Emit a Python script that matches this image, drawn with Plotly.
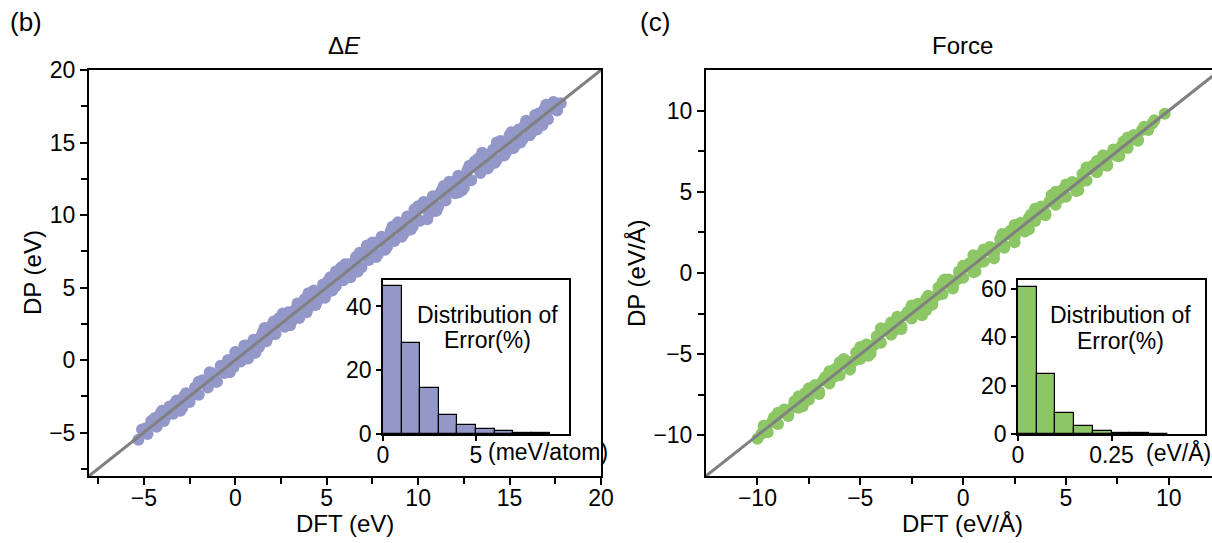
import plotly.graph_objects as go

# ---------------- data ----------------
# panel (b): Delta E, DFT vs DP (eV)
dE_dft = [-5.3, -5.1, -4.8, -4.6, -4.3, -4.1, -3.9, -3.6, -3.4, -3.2, -2.9, -2.7, -2.5, -2.2, -2.0,
          -1.8, -1.5, -1.3, -1.1, -0.8, -0.6, -0.4, -0.1, 0.1, 0.3, 0.6, 0.8, 1.0, 1.3, 1.5, 1.7,
          2.0, 2.2, 2.4, 2.7, 2.9, 3.1, 3.4, 3.6, 3.8, 4.1, 4.3, 4.5, 4.8, 5.0, 5.2, 5.5, 5.7, 5.9,
          6.2, 6.4, 6.6, 6.9, 7.1, 7.3, 7.6, 7.8, 8.0, 8.3, 8.5, 8.7, 9.0, 9.2, 9.4, 9.7, 9.9, 10.1,
          10.4, 10.6, 10.8, 11.1, 11.3, 11.5, 11.8, 12.0, 12.2, 12.5, 12.7, 12.9, 13.2, 13.4, 13.6,
          13.9, 14.1, 14.3, 14.6, 14.8, 15.0, 15.3, 15.5, 15.7, 16.0, 16.2, 16.4, 16.7, 16.9, 17.1,
          17.4, 17.6, 17.8, 9.5, 12.4, 16.8, 14.3,
          -4.9, -4.4, -3.8, -3.3, -2.8, -2.3, -1.7, -1.2, -0.7, -0.2, 0.4, 0.9, 1.4, 1.9, 2.3, 2.8,
          3.3, 3.7, 4.2, 4.7, 5.1, 5.6, 6.1, 6.5, 7.0, 7.4, 7.9, 8.4, 8.8, 9.3, 9.8, 10.2, 10.7,
          11.2, 11.6, 12.1, 12.6, 13.0, 13.5, 14.0, 14.4, 14.9, 15.4, 15.8, 16.3, 16.6, 17.2, 17.5,
          7.2, 10.5, 3.5, 13.5, 0.5, 11.0, 15.6, 6.8,
          -4.0, -3.0, -2.0, -1.0, 0.0, 1.1, 2.1, 3.0, 4.0, 4.9, 5.8, 6.7, 7.5, 8.2, 8.9, 9.6, 10.3,
          11.0, 11.7, 12.3, 13.1, 13.8, 14.5, 15.2, 15.9, 16.5, 17.0, 6.0, 9.1, 12.8, 3.9, 1.6,
          -0.3, 10.0, 14.7, 5.3,
          -1.4, 0.7, 2.6, 4.4, 5.5, 7.7, 8.6, 10.9, 11.4, 12.2, 13.3, 14.2, 15.1, 16.1, 9.8, 6.3]
dE_dp = [-5.5, -4.8, -5.1, -4.2, -4.6, -3.7, -4.2, -3.2, -3.7, -2.8, -3.3, -2.3, -2.9, -1.9, -2.4,
         -1.4, -1.9, -0.9, -1.5, -0.4, -0.9, 0.0, -0.5, 0.5, -0.1, 1.0, 0.4, 1.4, 0.9, 1.9, 1.3,
         2.4, 1.8, 2.9, 2.3, 3.3, 2.7, 3.9, 3.2, 4.2, 3.7, 4.8, 4.1, 5.2, 4.6, 5.7, 5.1, 6.2, 5.5,
         6.6, 6.0, 7.1, 6.4, 7.5, 6.9, 8.0, 7.3, 8.5, 7.8, 8.9, 8.2, 9.4, 8.7, 9.9, 9.2, 10.3, 9.6,
         10.8, 10.1, 11.3, 10.6, 11.7, 11.0, 12.2, 11.5, 12.7, 11.9, 13.1, 12.4, 13.6, 12.9, 14.1,
         13.4, 14.5, 13.8, 15.0, 14.3, 15.5, 14.8, 15.9, 15.2, 16.4, 15.7, 16.9, 16.2, 17.3, 16.6,
         17.8, 17.2, 17.7, 9.0, 11.7, 16.2, 15.0,
         -4.7, -4.0, -3.9, -3.0, -2.5, -2.4, -1.6, -1.2, -0.7, 0.0, 0.4, 0.8, 1.6, 1.7, 2.5, 2.7,
         3.5, 3.9, 4.5, 4.6, 5.5, 5.8, 6.4, 6.7, 7.3, 7.5, 8.2, 8.4, 9.2, 9.4, 9.7, 10.6, 10.6,
         11.5, 11.6, 12.4, 12.5, 13.4, 13.4, 14.2, 14.8, 14.8, 15.6, 16.1, 16.3, 17.0, 17.3, 17.7,
         7.9, 9.7, 2.9, 14.3, 1.0, 10.3, 15.0, 7.4,
         -3.5, -3.5, -1.5, -1.5, 0.55, 0.5, 2.65, 2.4, 4.6, 4.3, 6.4, 6.1, 8.1, 7.6, 9.5, 9.0, 10.9,
         10.4, 12.3, 11.7, 13.7, 13.2, 15.1, 14.6, 16.5, 15.9, 17.6, 6.6, 8.5, 13.4, 3.3, 2.2,
         -0.85, 10.6, 14.1, 4.8,
         -0.85, 0.1, 3.2, 3.8, 6.1, 7.1, 9.2, 10.3, 12.0, 11.55, 13.9, 13.6, 15.7, 15.5, 10.4, 5.7]

# panel (c): Force, DFT vs DP (eV/Å)
f_dft = [-10.0, -9.7, -9.5, -9.2, -9.0, -8.7, -8.5, -8.2, -8.0, -7.7, -7.5, -7.2, -7.0, -6.7, -6.5,
         -6.2, -6.0, -5.7, -5.5, -5.2, -5.0, -4.7, -4.5, -4.2, -4.0, -3.7, -3.5, -3.2, -3.0, -2.7,
         -2.5, -2.2, -2.0, -1.7, -1.5, -1.2, -1.0, -0.7, -0.5, -0.2, 0.0, 0.3, 0.5, 0.8, 1.0, 1.3,
         1.5, 1.8, 2.0, 2.3, 2.5, 2.8, 3.0, 3.3, 3.5, 3.8, 4.0, 4.3, 4.5, 4.8, 5.0, 5.3, 5.5, 5.8,
         6.0, 6.3, 6.5, 6.8, 7.0, 7.3, 7.5, 7.8, 8.0, 8.3, 8.5, 8.8, 9.0, 9.3, 9.8,
         -9.8, -9.3, -8.8, -8.3, -7.8, -7.3, -6.8, -6.3, -5.8, -5.3, -4.8, -4.3, -3.8, -3.3, -2.8,
         -2.3, -1.8, -1.3, -0.8, -0.3, 0.2, 0.7, 1.2, 1.7, 2.2, 2.7, 3.2, 3.7, 4.2, 4.7, 5.2, 5.7,
         6.2, 6.7, 7.2, 7.7, 8.2, 8.7, 9.2,
         -4.0, -2.0, 0.5, 2.5, 4.5, -6.0, 6.0, 1.5,
         -9.0, -8.0, -7.0, -6.5, -5.5, -5.0, -4.5, -3.5, -3.0, -2.5, -1.5, -1.0, -0.5, 0.0, 0.5,
         1.0, 2.0, 2.5, 3.0, 3.5, 4.0, 5.0, 5.5, 6.5, 7.0, 8.0, 8.5, -7.5,
         -5.8, -4.6, -3.2, -1.8, -0.9, 0.6, 1.9, 3.2, 4.3, 5.6, 6.8, -7.8, 7.6, -2.5]
f_dp = [-10.2, -9.4, -9.8, -8.9, -9.3, -8.4, -8.8, -7.9, -8.3, -7.4, -7.8, -6.9, -7.3, -6.4, -6.8,
        -5.9, -6.3, -5.4, -5.8, -4.9, -5.3, -4.4, -4.8, -3.9, -4.3, -3.4, -3.8, -2.9, -3.3, -2.4,
        -2.8, -1.9, -2.3, -1.4, -1.8, -0.9, -1.3, -0.4, -0.8, 0.1, -0.3, 0.6, 0.2, 1.1, 0.7, 1.6,
        1.2, 2.1, 1.7, 2.6, 2.2, 3.1, 2.7, 3.6, 3.2, 4.1, 3.7, 4.6, 4.2, 5.1, 4.7, 5.6, 5.2, 6.1,
        5.7, 6.6, 6.2, 7.1, 6.7, 7.6, 7.2, 8.1, 7.7, 8.5, 8.2, 9.0, 8.8, 9.4, 9.8,
        -9.9, -9.2, -8.6, -8.3, -7.6, -7.3, -6.6, -6.4, -5.6, -5.4, -4.6, -4.4, -3.5, -3.5, -2.6,
        -2.4, -1.6, -1.4, -0.6, -0.4, 0.4, 0.6, 1.4, 1.6, 2.4, 2.6, 3.4, 3.6, 4.4, 4.6, 5.4, 5.6,
        6.4, 6.6, 7.3, 7.8, 8.2, 8.8, 9.2,
        -3.4, -2.6, 1.1, 1.9, 5.0, -5.5, 6.5, 0.9,
        -8.6, -7.6, -7.45, -6.05, -5.95, -4.55, -4.95, -3.05, -3.45, -2.05, -1.95, -0.55, -0.95,
        0.45, 0.05, 1.45, 1.55, 2.95, 2.55, 3.95, 3.55, 5.45, 5.05, 6.9, 6.6, 8.35, 8.15, -7.1,
        -5.3, -5.1, -2.7, -2.3, -0.4, 0.1, 2.4, 2.7, 4.8, 5.1, 7.25, -8.2, 7.2, -2.0]

# inset histograms (error distribution, %)
hist_e_centers = [0.5, 1.5, 2.5, 3.5, 4.5, 5.5, 6.5, 7.5, 8.5]
hist_e_values = [46.5, 28.6, 14.3, 6.1, 2.9, 1.5, 0.8, 0.3, 0.2]
hist_f_centers = [0.025, 0.075, 0.125, 0.175, 0.225, 0.275, 0.325, 0.375]
hist_f_values = [61.0, 24.8, 8.8, 3.2, 1.2, 0.5, 0.3, 0.2]

# ---------------- style ----------------
W, H = 1212, 543
FONT = "Liberation Sans, Arial, sans-serif"
BLUE = "rgb(147,152,201)"
GREEN = "rgb(141,198,101)"
GREY = "rgb(128,128,128)"
TICK_SIZE = 23
TEXT_SIZE = 24


def px(x):
    return x / W


def py(y):
    return 1 - y / H


fig = go.Figure()

fig.add_trace(go.Scatter(x=dE_dft, y=dE_dp, mode="markers",
                         marker=dict(size=12, color=BLUE, line=dict(width=0)),
                         xaxis="x", yaxis="y", showlegend=False))
fig.add_trace(go.Scatter(x=[-8, 20], y=[-8, 20], mode="lines",
                         line=dict(color=GREY, width=3), xaxis="x", yaxis="y", showlegend=False))

fig.add_trace(go.Scatter(x=f_dft, y=f_dp, mode="markers",
                         marker=dict(size=12, color=GREEN, line=dict(width=0)),
                         xaxis="x2", yaxis="y2", showlegend=False))
fig.add_trace(go.Scatter(x=[-12.5, 12.5], y=[-12.5, 12.5], mode="lines",
                         line=dict(color=GREY, width=3), xaxis="x2", yaxis="y2", showlegend=False))

fig.add_trace(go.Bar(x=hist_e_centers, y=hist_e_values, width=1.0,
                     marker=dict(color=BLUE, line=dict(color="black", width=1.2)),
                     xaxis="x3", yaxis="y3", showlegend=False))
fig.add_trace(go.Bar(x=hist_f_centers, y=hist_f_values, width=0.05,
                     marker=dict(color=GREEN, line=dict(color="black", width=1.2)),
                     xaxis="x4", yaxis="y4", showlegend=False))

tickfont = dict(family=FONT, size=TICK_SIZE, color="black")
main_axis = dict(showline=True, linecolor="black", linewidth=2, ticks="outside",
                 ticklen=7, tickwidth=1.5, tickcolor="black", showgrid=False,
                 zeroline=False, tickfont=tickfont, automargin=False,
                 minor=dict(ticks="outside", ticklen=6, tickwidth=1.5, tickcolor="black"))
inset_axis = dict(showline=True, linecolor="black", linewidth=1.5, mirror=True,
                  ticks="outside", ticklen=5, tickwidth=1.5, tickcolor="black",
                  showgrid=False, zeroline=False, tickfont=tickfont, automargin=False)

ydom = [py(476), py(70)]

fig.update_layout(
    width=W, height=H, margin=dict(l=0, r=0, t=0, b=0, autoexpand=False),
    paper_bgcolor="white", plot_bgcolor="white",
    font=dict(family=FONT, size=TICK_SIZE, color="black"),
    bargap=0,
    xaxis=dict(main_axis, domain=[px(89), px(601)], range=[-8, 20], tickvals=[-5, 0, 5, 10, 15, 20],
               ticktext=["\u22125", "0", "5", "10", "15", "20"], mirror=True, anchor="y",
               ticklabelstandoff=-7,
               minor=dict(main_axis["minor"], tickvals=[-7.5, -2.5, 2.5, 7.5, 12.5, 17.5])),
    yaxis=dict(main_axis, domain=ydom, range=[-8, 20], tickvals=[-5, 0, 5, 10, 15, 20],
               ticktext=["\u22125", "0", "5", "10", "15", "20"], mirror=True, anchor="x",
               minor=dict(main_axis["minor"], tickvals=[-7.5, -2.5, 2.5, 7.5, 12.5, 17.5])),
    xaxis2=dict(main_axis, domain=[px(706), 1.0], range=[-12.5, 12.1], tickvals=[-10, -5, 0, 5, 10],
                ticktext=["\u221210", "\u22125", "0", "5", "10"], mirror=True, anchor="y2",
                ticklabelstandoff=-7,
                minor=dict(main_axis["minor"], tickvals=[-7.5, -2.5, 2.5, 7.5])),
    yaxis2=dict(main_axis, domain=ydom, range=[-12.5, 12.5], tickvals=[-10, -5, 0, 5, 10],
                ticktext=["\u221210", "\u22125", "0", "5", "10"], mirror=False, anchor="x2",
                minor=dict(main_axis["minor"], tickvals=[-7.5, -2.5, 2.5, 7.5])),
    xaxis3=dict(inset_axis, domain=[px(383), px(569)], range=[0, 10], anchor="y3",
                tickvals=[0, 5], ticktext=["0", "5"], ticklabelstandoff=-5),
    yaxis3=dict(inset_axis, domain=[py(434), py(280)], range=[0, 48.3], anchor="x3",
                tickvals=[0, 20, 40]),
    xaxis4=dict(inset_axis, domain=[px(1018), px(1205)], range=[0, 0.5], anchor="y4",
                tickvals=[0, 0.25], ticktext=["0", "0.25"], ticklabelstandoff=-5),
    yaxis4=dict(inset_axis, domain=[py(434), py(280)], range=[0, 63.7], anchor="x4",
                tickvals=[0, 20, 40, 60]),
)


def ann(text, x, y, size=TEXT_SIZE, angle=0, xanchor="center"):
    fig.add_annotation(text=text, x=px(x), y=py(y), xref="paper", yref="paper",
                       showarrow=False, xanchor=xanchor, yanchor="middle", textangle=angle,
                       font=dict(family=FONT, size=size, color="black"))


ann("(b)", 26, 22, size=26)
ann("(c)", 655, 22, size=26)
ann("\u0394<i>E</i>", 345, 45)
ann("Force", 962, 45)
ann("DP (eV)", 32, 273, angle=-90)
ann("DP (eV/\u00c5)", 636, 273, angle=-90)
ann("DFT (eV)", 345, 523)
ann("DFT (eV/\u00c5)", 962, 523)
ann("Distribution of", 487, 315, size=TICK_SIZE)
ann("Error(%)", 487, 340, size=TICK_SIZE)
ann("Distribution of", 1120, 315, size=TICK_SIZE)
ann("Error(%)", 1120, 341, size=TICK_SIZE)
ann("(meV/atom)", 548, 452, size=TICK_SIZE)
ann("(eV/\u00c5)", 1178, 452, size=TICK_SIZE)

fig.write_html("out.html")
